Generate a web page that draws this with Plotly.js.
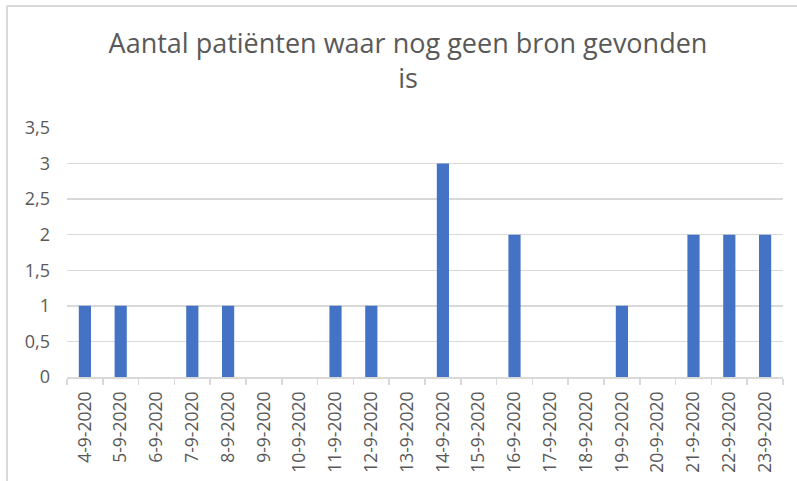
<!DOCTYPE html>
<html>
<head>
<meta charset="utf-8">
<script src="https://cdn.plot.ly/plotly-3.0.1.min.js"></script>
<style>html,body{margin:0;padding:0;background:#fff;}#chart{width:797px;height:481px;}</style>
</head>
<body>
<div id="chart"></div>
<script>
const dates = ["4-9-2020","5-9-2020","6-9-2020","7-9-2020","8-9-2020","9-9-2020","10-9-2020","11-9-2020","12-9-2020","13-9-2020","14-9-2020","15-9-2020","16-9-2020","17-9-2020","18-9-2020","19-9-2020","20-9-2020","21-9-2020","22-9-2020","23-9-2020"];
const counts = [1,1,0,1,1,0,0,1,1,0,3,0,2,0,0,1,0,2,2,2];
const yTicks = [0,0.5,1,1.5,2,2.5,3,3.5];

const grey = "#d9d9d9";
const textGrey = "#595959";

const trace = {
  type: "bar",
  x: dates,
  y: counts,
  marker: {color: "#4472C4"},
  hoverinfo: "x+y"
};

const layout = {
  width: 797,
  height: 481,
  margin: {l: 67, r: 14, t: 128, b: 104, pad: 0},
  paper_bgcolor: "#ffffff",
  plot_bgcolor: "#ffffff",
  separators: ",.",
  bargap: 0.66,
  showlegend: false,
  font: {family: "Open Sans, sans-serif", color: textGrey},
  title: {
    text: "Aantal patiënten waar nog geen bron gevonden<br>is",
    font: {family: "Open Sans, sans-serif", size: 27, color: textGrey},
    x: 408/797, xanchor: "center", xref: "container",
    y: 1 - 53/481, yanchor: "top", yref: "container"
  },
  xaxis: {
    type: "category",
    tickangle: -90,
    tickfont: {size: 17.5, color: textGrey},
    showgrid: false,
    showline: true,
    linecolor: grey,
    linewidth: 1.5,
    ticks: "outside",
    tickson: "boundaries",
    ticklen: 6,
    tickcolor: grey,
    tickwidth: 1.5,
    ticklabelstandoff: 6,
    zeroline: false
  },
  yaxis: {
    range: [0, 3.5],
    tickvals: yTicks,
    tickformat: ",.1~f",
    tickfont: {size: 18, color: textGrey},
    showgrid: true,
    gridcolor: grey,
    gridwidth: 1.5,
    zeroline: false,
    showline: false,
    ticks: "",
    ticklabelstandoff: 16
  },
  shapes: [
    {type: "line", xref: "paper", yref: "paper", xsizemode: "pixel", ysizemode: "pixel",
     xanchor: 0, yanchor: 1, x0: -60, x1: -60, y0: 122, y1: -360,
     line: {color: grey, width: 2}},
    {type: "line", xref: "paper", yref: "paper", xsizemode: "pixel", ysizemode: "pixel",
     xanchor: 0, yanchor: 1, x0: -60, x1: 740, y0: 122, y1: 122,
     line: {color: grey, width: 2}}
  ]
};

Plotly.newPlot("chart", [trace], layout, {displayModeBar: false, staticPlot: true});
</script>
</body>
</html>
